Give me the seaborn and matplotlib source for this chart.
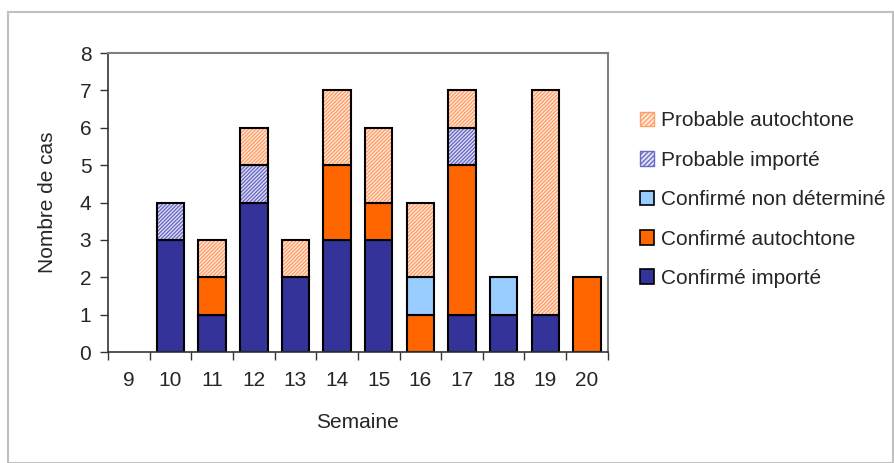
import pandas as pd
import matplotlib
matplotlib.use("Agg")
from matplotlib import pyplot as plt
from matplotlib.patches import Patch, Rectangle
import seaborn as sns

# data
semaines = ["9", "10", "11", "12", "13", "14", "15", "16", "17", "18", "19", "20"]
confirme_importe = [0, 3, 1, 4, 2, 3, 3, 0, 1, 1, 1, 0]
confirme_autochtone = [0, 0, 1, 0, 0, 2, 1, 1, 4, 0, 0, 2]
confirme_non_determine = [0, 0, 0, 0, 0, 0, 0, 1, 0, 1, 0, 0]
probable_importe = [0, 1, 0, 1, 0, 0, 0, 0, 1, 0, 0, 0]
probable_autochtone = [0, 0, 1, 1, 1, 2, 2, 2, 1, 0, 6, 0]

# name, values, fill colour, hatch colour (None = plain fill)
series = [
    ("Confirmé importé", confirme_importe, "#333399", None),
    ("Confirmé autochtone", confirme_autochtone, "#FF6600", None),
    ("Confirmé non déterminé", confirme_non_determine, "#99CCFF", None),
    ("Probable importé", probable_importe, "#E4E4F4", "#6A6AC8"),
    ("Probable autochtone", probable_autochtone, "#FFEBDD", "#FF9F6A"),
]

sns.set_style("white")
plt.rcParams["font.family"] = ["Liberation Sans", "DejaVu Sans"]
plt.rcParams["hatch.linewidth"] = 1.0

fig = plt.figure(figsize=(8.95, 4.63), dpi=100)
ax = fig.add_axes([0.1207, 0.2397, 0.5583, 0.6458])

# grey frame around the whole chart
fig.patches.append(Rectangle((8 / 895, 0.0), 885 / 895, 451 / 463, transform=fig.transFigure,
                             fill=False, edgecolor="#C0C0C0", linewidth=1.5))

bottom = [0] * len(semaines)
handles = []
for name, vals, color, hcolor in series:
    df = pd.DataFrame({"semaine": semaines, "n": vals})
    if hcolor is None:
        sns.barplot(data=df, x="semaine", y="n", order=semaines, color=color, saturation=1,
                    width=0.66, bottom=bottom, edgecolor="black", linewidth=1.5, ax=ax)
        handles.append(Patch(facecolor=color, edgecolor="black", linewidth=1.2, label=name))
    else:
        # hatch layer in colour, then black outline on top
        sns.barplot(data=df, x="semaine", y="n", order=semaines, color=color, saturation=1,
                    width=0.66, bottom=bottom, edgecolor=hcolor, hatch="/////////", linewidth=0, ax=ax)
        sns.barplot(data=df, x="semaine", y="n", order=semaines, color="none", saturation=1,
                    width=0.66, bottom=bottom, edgecolor="black", linewidth=1.5, fill=False, ax=ax)
        handles.append(Patch(facecolor=color, edgecolor=hcolor, hatch="///////", label=name))
    bottom = [b + v for b, v in zip(bottom, vals)]

# hide zero-height bars
for p in ax.patches:
    if p.get_height() == 0:
        p.set_visible(False)

ax.set_ylim(0, 8)
ax.set_xlim(-0.5, len(semaines) - 0.5)
ax.set_yticks(range(0, 9))
ax.set_xticks([i - 0.5 for i in range(len(semaines) + 1)], minor=False)
ax.set_xticklabels([])
ax.set_xticks(range(len(semaines)), minor=True)
ax.set_xticklabels(semaines, minor=True)
ax.tick_params(axis="x", which="major", length=6, width=1, color="#333333", direction="out", bottom=True)
ax.tick_params(axis="x", which="minor", length=0, labelsize=15, pad=14)
ax.tick_params(axis="y", length=6, width=1, color="#333333", direction="out", left=True, labelsize=15, pad=6)

for side in ["top", "right"]:
    ax.spines[side].set_color("#808080")
    ax.spines[side].set_linewidth(1.5)
for side in ["left", "bottom"]:
    ax.spines[side].set_color("#333333")
    ax.spines[side].set_linewidth(1.2)

ax.set_xlabel("Semaine", fontsize=15, labelpad=16)
ax.set_ylabel("Nombre de cas", fontsize=15, labelpad=16)

fig.legend(handles=handles[::-1], loc="upper left", bbox_to_anchor=(0.694, 0.80),
           frameon=False, fontsize=15, handlelength=0.7, handleheight=0.7,
           handletextpad=0.3, labelspacing=0.98)

plt.savefig("out.png", dpi=100)
